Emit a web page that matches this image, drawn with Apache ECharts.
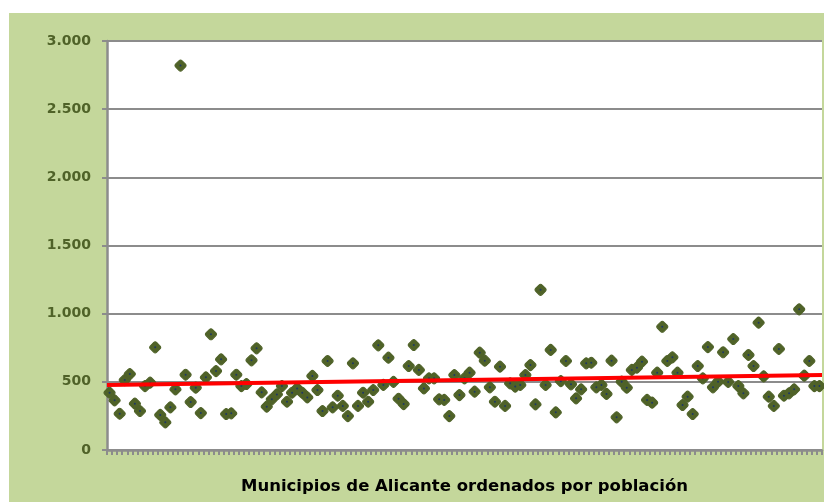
<!DOCTYPE html>
<html>
<head>
<meta charset="utf-8">
<script src="https://cdn.jsdelivr.net/npm/echarts@6/dist/echarts.min.js"></script>
<style>
  html, body { margin: 0; padding: 0; background: #fff; }
  #bg { position: absolute; left: 9px; top: 13px; width: 815px; height: 489px; background: #C4D79B; }
  #main { position: absolute; left: 0; top: 0; width: 824px; height: 502px; }
</style>
</head>
<body>
<div id="bg"></div>
<div id="main"></div>
<script>
// valor por municipio (orden por población)
const values = [
  420, 364, 266, 513, 557, 340, 286, 469, 494, 753,
  257, 203, 313, 445, 2820, 552, 352, 457, 271, 533,
  849, 579, 665, 264, 269, 552, 469, 484, 658, 746,
  423, 318, 372, 408, 469, 354, 420, 452, 420, 386,
  543, 440, 286, 653, 313, 398, 323, 249, 636, 323,
  420, 354, 440, 768, 477, 677, 500, 376, 337, 616,
  770, 587, 452, 526, 526, 372, 367, 249, 550, 403,
  526, 567, 428, 714, 655, 460, 354, 611, 323, 489,
  465, 477, 550, 623, 335, 1175, 477, 734, 276, 505,
  653, 482, 379, 445, 636, 640, 460, 477, 411, 655,
  240, 501, 457, 587, 604, 648, 367, 347, 567, 904,
  653, 680, 567, 330, 391, 264, 616, 526, 755, 460,
  501, 717, 499, 814, 469, 416, 697, 616, 934, 540,
  391, 323, 741, 398, 416, 445, 1032, 545, 653, 469,
  469
];
const categories = values.map((v, i) => String(i + 1));
// línea de tendencia: valor en el borde izquierdo y derecho
const trendLine = [477, 550];
const yTickLabels = ["0", "500", "1.000", "1.500", "2.000", "2.500", "3.000"];
const xTitle = "Municipios de Alicante ordenados por población";

const gray = "#8c8c8c";
const olive = "#4F6228";

const chart = echarts.init(document.getElementById("main"));
chart.setOption({
  backgroundColor: "transparent",
  animation: false,
  grid: {
    left: 107, top: 41, right: 2, bottom: 52,
    show: true, backgroundColor: "#fff", borderWidth: 0,
  },
  xAxis: [
    {
      type: "category",
      data: categories,
      boundaryGap: true,
      axisLine: { lineStyle: { color: gray, width: 2.5 } },
      axisTick: { show: true, interval: 0, length: 5, lineStyle: { color: gray, width: 2 } },
      axisLabel: { show: false },
      splitLine: { show: false },
      name: xTitle,
      nameLocation: "middle",
      nameGap: 28,
      nameTextStyle: { fontFamily: "DejaVu Sans", fontWeight: "bold", fontSize: 16.5, color: "#000" },
    },
    { type: "value", min: 0, max: 1, show: false },
  ],
  yAxis: {
    type: "value",
    min: 0, max: 3000, interval: 500,
    axisLine: { show: true, lineStyle: { color: gray, width: 2.5 } },
    axisTick: { show: true, length: 5, lineStyle: { color: gray, width: 2 } },
    axisLabel: {
      margin: 16,
      fontFamily: "DejaVu Sans", fontWeight: "bold", fontSize: 14, color: olive,
      formatter: (v) => yTickLabels[Math.round(v / 500)],
    },
    splitLine: { lineStyle: { color: gray, width: 2 } },
  },
  series: [
    {
      type: "scatter",
      data: values,
      symbol: "roundRect",
      symbolRotate: 45,
      symbolSize: 9,
      itemStyle: { color: olive, borderColor: olive, borderWidth: 1, opacity: 1 },
      z: 2,
    },
    {
      type: "scatter",
      data: values,
      symbol: "circle",
      symbolSize: 2,
      itemStyle: { color: "#1F3864", opacity: 1 },
      z: 3,
    },
    {
      type: "line",
      xAxisIndex: 1,
      data: [[0, trendLine[0]], [1, trendLine[1]]],
      showSymbol: false,
      lineStyle: { color: "#FF0000", width: 4 },
      z: 4,
    },
  ],
});
</script>
</body>
</html>
